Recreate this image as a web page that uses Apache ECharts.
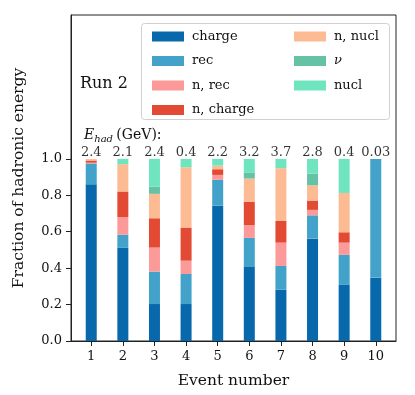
<!DOCTYPE html>
<html lang="en">
<head>
<meta charset="utf-8" />
<title>Hadronic energy fractions</title>
<style>
  html, body { margin: 0; padding: 0; background: #fff; }
  #chart { width: 415px; height: 395px; }
</style>
</head>
<body>
<div id="chart"></div>
<script src="https://cdn.jsdelivr.net/npm/echarts@6/dist/echarts.min.js"></script>
<script>
// event numbers on the x axis
var events = [1, 2, 3, 4, 5, 6, 7, 8, 9, 10];
// hadronic energy per event (GeV), printed above the bars
var eHad = ['2.4', '2.1', '2.4', '0.4', '2.2', '3.2', '3.7', '2.8', '0.4', '0.03'];

// fractions per component, stacked bottom to top
var charge  = [0.860, 0.513, 0.203, 0.203, 0.743, 0.410, 0.282, 0.562, 0.308, 0.348];
var rec     = [0.115, 0.070, 0.178, 0.165, 0.142, 0.156, 0.130, 0.128, 0.165, 0.652];
var nRec    = [0.004, 0.098, 0.132, 0.073, 0.027, 0.071, 0.128, 0.030, 0.067, 0];
var nCharge = [0.012, 0.140, 0.161, 0.182, 0.031, 0.128, 0.119, 0.051, 0.057, 0];
var nNucl   = [0.008, 0.150, 0.134, 0.331, 0.020, 0.127, 0.290, 0.084, 0.216, 0];
var nu      = [0,     0,     0.040, 0,     0,     0.031, 0,     0.064, 0,     0];
var nucl    = [0,     0.029, 0.152, 0.046, 0.037, 0.077, 0.051, 0.081, 0.187, 0];

var names  = ['charge', 'rec', 'n, rec', 'n, charge', 'n, nucl', 'ν', 'nucl'];
var values = [charge, rec, nRec, nCharge, nNucl, nu, nucl];
var colors = ['#0868ac', '#43a2ca', '#fb9a99', '#e34a33', '#fdbb94', '#66c2a4', '#6ee5bf'];

var FONT = 'DejaVu Serif';

var chart = echarts.init(document.getElementById('chart'));

// data rows are [fraction, event] so the fraction is the stacked dimension
var series = names.map(function (n, k) {
  return {
    name: n,
    type: 'bar',
    stack: 'frac',
    barWidth: 11,
    encode: { x: 1, y: 0 },
    itemStyle: { color: colors[k] },
    data: events.map(function (e, i) { return [values[k][i], e]; })
  };
});

// invisible points at the top of each bar carry the E_had labels
series.push({
  type: 'scatter',
  symbolSize: 0,
  silent: true,
  data: events.map(function (e) { return [e, 1.0]; }),
  label: {
    show: true,
    position: 'top',
    distance: 0,
    fontFamily: FONT,
    fontSize: 13,
    color: '#000',
    textBorderWidth: 0,
    formatter: function (p) { return eHad[p.dataIndex]; }
  }
});

var legendCommon = {
  orient: 'vertical',
  itemWidth: 32,
  itemHeight: 10,
  itemGap: 11.5,
  icon: 'rect',
  textStyle: {
    fontFamily: FONT, fontSize: 13, color: '#111', padding: [0, 0, 0, 3],
    rich: { i: { fontFamily: FONT, fontSize: 13, fontStyle: 'italic', color: '#111' } }
  },
  formatter: function (n) { return n === 'ν' ? '{i|ν}' : n; }
};

var option = {
  backgroundColor: '#fff',
  animation: false,
  grid: {
    left: 71, right: 19, top: 15, bottom: 54,
    show: true, borderColor: '#222', borderWidth: 1
  },
  legend: [
    Object.assign({ left: 147, top: 25, data: ['charge', 'rec', 'n, rec', 'n, charge'] }, legendCommon),
    Object.assign({ left: 289, top: 25, data: ['n, nucl', 'ν', 'nucl'] }, legendCommon)
  ],
  graphic: [
    {
      type: 'rect', left: 141, top: 23, z: 0,
      shape: { width: 248, height: 96, r: 3 },
      style: { fill: '#fff', stroke: '#d0d0d0', lineWidth: 1 }
    },
    {
      type: 'text', left: 80, top: 76,
      style: { text: 'Run 2', font: '16px "DejaVu Serif"', fill: '#111' }
    },
    {
      type: 'text', left: 84, top: 128,
      style: {
        text: '{e|E}{s|had} {t|(GeV):}',
        rich: {
          e: { fontFamily: FONT, fontSize: 14, fontStyle: 'italic', fill: '#111', lineHeight: 18 },
          s: { fontFamily: FONT, fontSize: 10, fontStyle: 'italic', fill: '#111', verticalAlign: 'bottom', lineHeight: 12 },
          t: { fontFamily: FONT, fontSize: 14, fill: '#111', lineHeight: 18 }
        }
      }
    }
  ],
  xAxis: {
    type: 'value',
    min: 0.36,
    max: 10.64,
    name: 'Event number',
    nameLocation: 'middle',
    nameGap: 32,
    nameTextStyle: { fontFamily: FONT, fontSize: 15.5, color: '#111' },
    splitLine: { show: false },
    axisLine: { show: true, lineStyle: { color: '#222' } },
    axisTick: { show: true, length: 5, lineStyle: { color: '#222' }, customValues: events },
    axisLabel: { fontFamily: FONT, fontSize: 13, color: '#111', margin: 9, customValues: events }
  },
  yAxis: {
    type: 'value',
    min: 0,
    max: 1.79,
    name: 'Fraction of hadronic energy',
    nameLocation: 'middle',
    nameGap: 44,
    nameTextStyle: { fontFamily: FONT, fontSize: 15.5, color: '#111' },
    splitLine: { show: false },
    axisLine: { show: true, lineStyle: { color: '#222' } },
    axisTick: { show: true, length: 5, lineStyle: { color: '#222' }, customValues: [0, 0.2, 0.4, 0.6, 0.8, 1.0] },
    axisLabel: {
      fontFamily: FONT, fontSize: 13, color: '#111', margin: 9,
      customValues: [0, 0.2, 0.4, 0.6, 0.8, 1.0],
      formatter: function (v) { return v.toFixed(1); }
    }
  },
  series: series
};

chart.setOption(option);
</script>
</body>
</html>
